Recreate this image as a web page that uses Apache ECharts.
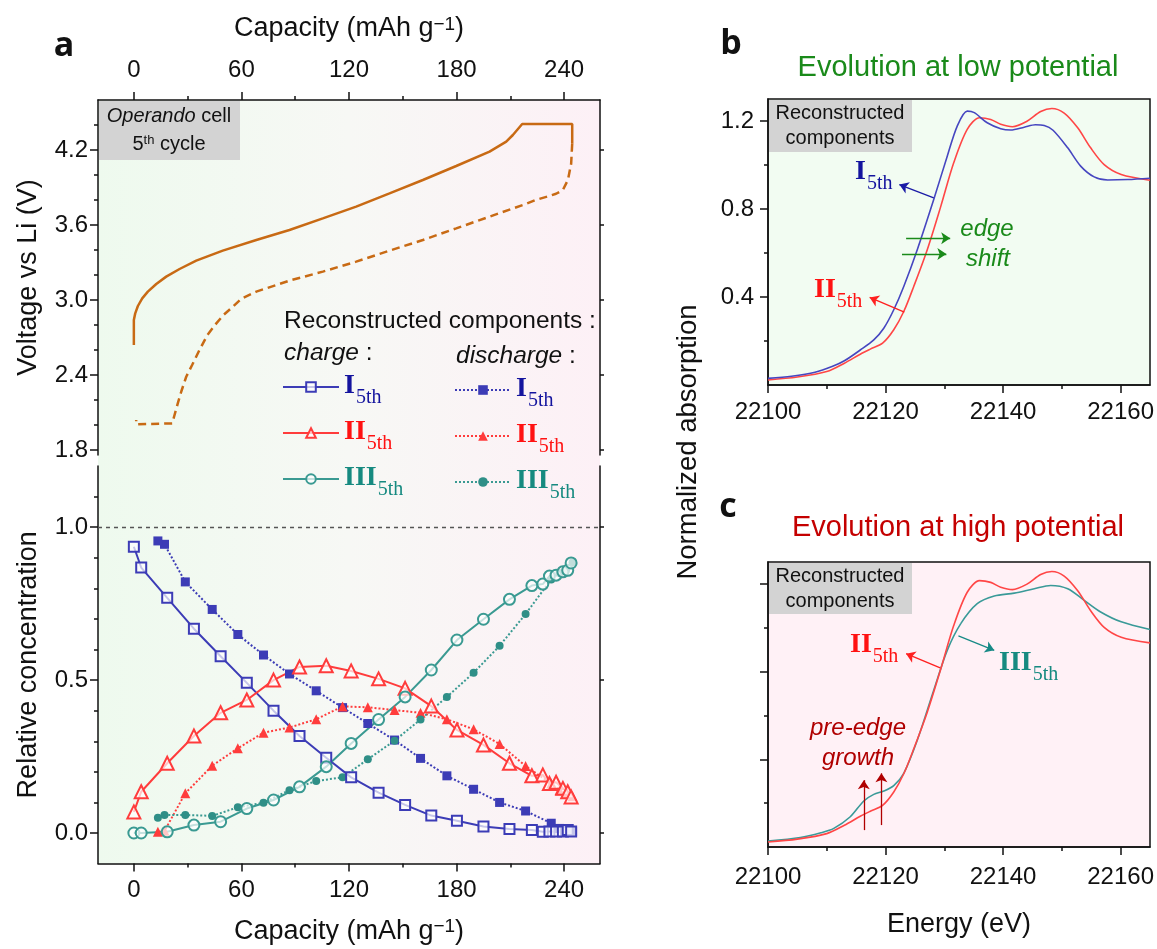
<!DOCTYPE html>
<html>
<head>
<meta charset="utf-8">
<script src="https://cdn.jsdelivr.net/npm/echarts@6/dist/echarts.min.js"></script>
<style>
html, body { margin: 0; padding: 0; background: #ffffff; }
#chart { width: 1157px; height: 949px; }
</style>
</head>
<body>
<div id="chart"></div>
<script>
// ---------- Panel a: galvanostatic profile (capacity mAh/g, voltage V) ----------
const voltageCharge = [
  [0, 2.64], [0, 2.84], [0.76, 2.893], [2.25, 2.952], [4.67, 3.013], [7.8, 3.067],
  [12.5, 3.128], [18.05, 3.187], [25.5, 3.248], [34.8, 3.315], [49.6, 3.395],
  [68.3, 3.48], [86.8, 3.56], [105.4, 3.653], [124, 3.747], [142.6, 3.853],
  [161.2, 3.96], [179.8, 4.072], [198.4, 4.187], [207.7, 4.267], [211.4, 4.32],
  [216.6, 4.408], [244.5, 4.408], [244.5, 4.25]
];
const voltageDischarge = [
  [244.5, 4.25], [243.9, 4.09], [242.1, 3.96], [239.3, 3.88], [235.5, 3.85],
  [231.8, 3.832], [224, 3.80], [217, 3.76], [198.4, 3.667], [179.8, 3.573],
  [161.2, 3.48], [142.6, 3.395], [124, 3.307], [105.4, 3.227], [86.8, 3.155],
  [68.3, 3.067], [60, 3.01], [55.2, 2.946], [50, 2.88], [46, 2.813], [41, 2.72],
  [36.6, 2.6], [32.5, 2.48], [29.2, 2.386], [26.5, 2.27], [24.5, 2.173],
  [22.5, 2.07], [21.4, 2.013], [1.3, 2.005], [1.3, 2.04]
];

// ---------- Panel a: relative concentration of the reconstructed components ----------
const chargeCap = [0, 4.1, 18.6, 33.5, 48.4, 63, 77.9, 92.4, 107.3, 121.2, 136.5, 151.3,
  165.9, 180.2, 195, 209.5, 222, 228.1, 231.8, 235.5, 239.3, 242, 243.9];
const chargeI = [0.936, 0.868, 0.769, 0.668, 0.578, 0.491, 0.40, 0.317, 0.246, 0.182, 0.132,
  0.092, 0.057, 0.040, 0.021, 0.013, 0.010, 0.004, 0.005, 0.005, 0.005, 0.010, 0.005];
const chargeII = [0.069, 0.135, 0.228, 0.317, 0.393, 0.435, 0.50, 0.543, 0.547, 0.53, 0.504,
  0.473, 0.415, 0.337, 0.288, 0.228, 0.187, 0.19, 0.162, 0.166, 0.146, 0.135, 0.118];
const chargeIII = [0, 0, 0.004, 0.026, 0.037, 0.08, 0.108, 0.151, 0.217, 0.293, 0.371,
  0.445, 0.533, 0.631, 0.699, 0.764, 0.809, 0.814, 0.84, 0.843, 0.854, 0.859, 0.883];

const dischargeCap = [244.7, 241, 237.4, 232.8, 218.5, 204, 189.5, 174.6, 159.9, 145.4,
  130.5, 116.4, 101.7, 86.8, 72.3, 58, 43.7, 28.7, 17.1, 13.4];
const dischargeI = [0.005, 0.01, 0.015, 0.032, 0.072, 0.10, 0.143, 0.187, 0.244, 0.304,
  0.358, 0.41, 0.465, 0.52, 0.582, 0.649, 0.731, 0.821, 0.944, 0.955];
const dischargeII = [0.12, 0.13, 0.14, 0.162, 0.219, 0.291, 0.339, 0.372, 0.393, 0.402,
  0.411, 0.414, 0.372, 0.345, 0.328, 0.277, 0.22, 0.13, 0.007, 0.004];
const dischargeIII = [0.885, 0.859, 0.85, 0.829, 0.716, 0.612, 0.524, 0.445, 0.371, 0.302,
  0.241, 0.182, 0.17, 0.14, 0.099, 0.084, 0.056, 0.059, 0.059, 0.05];

// ---------- Panels b, c: XANES spectra (energy eV, normalized absorption) ----------
const spectrumI = [
  [22100, 0.030], [22104, 0.040], [22108, 0.058], [22111, 0.085], [22113, 0.11],
  [22115.7, 0.159], [22118, 0.205], [22119.7, 0.258], [22121.4, 0.342], [22123.1, 0.448],
  [22125.4, 0.615], [22128.2, 0.843], [22130.5, 1.040], [22132.2, 1.177], [22133.9, 1.245],
  [22135.1, 1.238], [22137.3, 1.192], [22139.6, 1.165], [22141.3, 1.159], [22143.6, 1.172],
  [22145.5, 1.183], [22147, 1.180], [22148.5, 1.158], [22151, 1.078], [22153.2, 0.995],
  [22155.5, 0.946], [22157.8, 0.932], [22161.2, 0.934], [22165, 0.940]
];
const spectrumII = [
  [22100, 0.023], [22105, 0.036], [22110, 0.061], [22113, 0.099], [22115.7, 0.14],
  [22117.4, 0.163], [22119.5, 0.19], [22121.4, 0.251], [22123.1, 0.334], [22124.8, 0.448],
  [22127.1, 0.615], [22129.4, 0.812], [22131.6, 1.010], [22133.9, 1.162], [22136, 1.215],
  [22137.9, 1.207], [22139.6, 1.185], [22141.6, 1.174], [22144, 1.198], [22146.4, 1.243],
  [22148.3, 1.257], [22150.4, 1.236], [22152.7, 1.169], [22154.9, 1.078], [22157.2, 1.002],
  [22160.1, 0.957], [22165, 0.931]
];
const spectrumIII = [
  [22100, 0.027], [22105.5, 0.043], [22109, 0.065], [22111.2, 0.085], [22114, 0.138],
  [22116.3, 0.21], [22118, 0.24], [22119.7, 0.255], [22121.4, 0.28], [22123.1, 0.336],
  [22125.4, 0.487], [22128.2, 0.715], [22130.5, 0.897], [22132.8, 1.019], [22135.6, 1.110],
  [22138.5, 1.145], [22141.9, 1.158], [22145.3, 1.178], [22148.1, 1.193], [22151, 1.178],
  [22153.8, 1.125], [22156.6, 1.072], [22160.1, 1.027], [22165, 0.992]
];

// ---------- tick values ----------
const capMajor = [0, 60, 120, 180, 240];
const capMinor = [30, 90, 150, 210];
const voltMajor = [1.8, 2.4, 3.0, 3.6, 4.2];
const voltMinor = [2.0, 2.2, 2.6, 2.8, 3.2, 3.4, 3.8, 4.0, 4.4];
const concMajor = [0, 0.5, 1.0];
const concMinor = [0.1, 0.2, 0.3, 0.4, 0.6, 0.7, 0.8, 0.9, 1.1];
const energyMajor = [22100, 22120, 22140, 22160];
const energyMinor = [22110, 22130, 22150];
const absMajor = [0.4, 0.8, 1.2];
const absMinor = [0.2, 0.6, 1.0];

// ---------- styling ----------
const FONT = 'Liberation Sans';
const SERIF = 'Liberation Serif';
const BLACK = '#111111';
const BLUE = '#3c3cb6';
const RED = '#ff3c3c';
const TEAL = '#3a9a92';
const ORANGE = '#c86a14';
const TXT_I = '#14149e';
const TXT_II = '#ff1212';
const TXT_III = '#168a80';

const pair = (xs, ys) => xs.map((x, i) => [x, ys[i]]);

function majorAxis(gridIndex, position, min, max, ticks, labelOpts, extra) {
  return Object.assign({
    type: 'value', gridIndex, position, min, max,
    axisLine: { show: true, onZero: false, lineStyle: { color: BLACK, width: 1.5 } },
    axisTick: { show: true, inside: false, length: 8, customValues: ticks, lineStyle: { color: BLACK, width: 1.5 } },
    axisLabel: Object.assign({ show: true, customValues: ticks, margin: 12, fontSize: 24, fontFamily: FONT, color: BLACK,
      formatter: v => String(v) }, labelOpts || {}),
    splitLine: { show: false }
  }, extra || {});
}
function minorAxis(gridIndex, position, min, max, ticks, len) {
  return {
    type: 'value', gridIndex, position, min, max,
    axisLine: { show: false, onZero: false },
    axisTick: { show: true, inside: false, length: len || 4, customValues: ticks, lineStyle: { color: BLACK, width: 1.5 } },
    axisLabel: { show: false },
    splitLine: { show: false }
  };
}
const fix1 = v => Number(v).toFixed(1);

const supRich = { sup: { fontSize: 19, fontFamily: FONT, verticalAlign: 'top', lineHeight: 16, color: BLACK } };
const capName = 'Capacity (mAh g{sup|\u22121})';
const axisNameStyle = { fontSize: 27, fontFamily: FONT, color: BLACK, rich: supRich };

// roman numeral labels with subscript "5th"; legend text uses "color", graphic text uses "fill"
function romanRich(key, color, prop) {
  const r = {};
  r[key + 'b'] = { fontFamily: SERIF, fontWeight: 'bold', fontSize: 28, lineHeight: 30, verticalAlign: 'top' };
  r[key + 's'] = { fontFamily: SERIF, fontSize: 20, lineHeight: 20, padding: [16, 0, 0, 1], verticalAlign: 'top' };
  r[key + 'b'][prop] = color;
  r[key + 's'][prop] = color;
  return r;
}
function makeRich(prop) {
  return Object.assign({}, romanRich('a', TXT_I, prop), romanRich('b', TXT_II, prop), romanRich('c', TXT_III, prop));
}
const RICH = makeRich('color');
const RICH_FILL = makeRich('fill');
const LABEL_I = '{ab|I}{as|5th}';
const LABEL_II = '{bb|II}{bs|5th}';
const LABEL_III = '{cb|III}{cs|5th}';
const LEGEND_TEXT = {
  'I charge': LABEL_I, 'II charge': LABEL_II, 'III charge': LABEL_III,
  'I discharge': LABEL_I, 'II discharge': LABEL_II, 'III discharge': LABEL_III
};

const openItem = c => ({ color: 'rgba(255,255,255,0.7)', borderColor: c, borderWidth: 2 });

function arrowLines(list) {
  return {
    silent: true, animation: false,
    symbol: ['none', 'arrow'], symbolSize: 9,
    label: { show: false },
    emphasis: { disabled: true },
    data: list.map(a => [
      { coord: a.from, lineStyle: { color: a.color, width: 1.3, type: 'solid' }, itemStyle: { color: a.color } },
      { coord: a.to, lineStyle: { color: a.color, width: 1.3, type: 'solid' }, itemStyle: { color: a.color } }
    ])
  };
}

function txt(x, y, text, style, extra) {
  return Object.assign({
    type: 'text', x, y, silent: true,
    style: Object.assign({ text, fill: BLACK, fontFamily: FONT, fontSize: 24, align: 'left', verticalAlign: 'middle' }, style || {})
  }, extra || {});
}
const italicRich = size => ({ it: { fontStyle: 'italic', fontSize: size, fontFamily: FONT, fill: BLACK } });

const option = {
  animation: false,
  backgroundColor: '#ffffff',
  grid: [
    { left: 98, top: 100, width: 502, height: 355 },
    { left: 98, top: 466, width: 502, height: 397.6 },
    { left: 768, top: 99, width: 382, height: 286, show: true, backgroundColor: '#f2fcf2', borderColor: BLACK, borderWidth: 1.5 },
    { left: 768, top: 562, width: 382, height: 285, show: true, backgroundColor: '#fff1f6', borderColor: BLACK, borderWidth: 1.5 }
  ],
  xAxis: [
    majorAxis(0, 'top', -20, 260, capMajor, { margin: 18 },
      { name: capName, nameLocation: 'middle', nameGap: 58, nameTextStyle: axisNameStyle }),
    minorAxis(0, 'top', -20, 260, capMinor),
    majorAxis(1, 'bottom', -20, 260, capMajor, { margin: 15 },
      { name: capName, nameLocation: 'middle', nameGap: 54, nameTextStyle: axisNameStyle }),
    minorAxis(1, 'bottom', -20, 260, capMinor),
    majorAxis(2, 'bottom', 22100, 22165, energyMajor, { margin: 15 }),
    minorAxis(2, 'bottom', 22100, 22165, energyMinor),
    majorAxis(3, 'bottom', 22100, 22165, energyMajor, { margin: 18 },
      { name: 'Energy (eV)', nameLocation: 'middle', nameGap: 64, nameTextStyle: axisNameStyle }),
    minorAxis(3, 'bottom', 22100, 22165, energyMinor)
  ],
  yAxis: [
    majorAxis(0, 'left', 1.76, 4.6, voltMajor, { margin: 10, formatter: fix1 },
      { name: 'Voltage vs Li (V)', nameLocation: 'middle', nameGap: 56, nameTextStyle: axisNameStyle }),
    minorAxis(0, 'left', 1.76, 4.6, voltMinor),
    majorAxis(0, 'right', 1.76, 4.6, voltMajor, { show: false }, { axisTick: { show: true, length: 4, customValues: voltMajor, lineStyle: { color: BLACK, width: 1.5 } } }),
    majorAxis(1, 'left', -0.1, 1.2, concMajor, { margin: 10, formatter: fix1 },
      { name: 'Relative concentration', nameLocation: 'middle', nameGap: 56, nameTextStyle: axisNameStyle }),
    minorAxis(1, 'left', -0.1, 1.2, concMinor),
    majorAxis(1, 'right', -0.1, 1.2, concMajor, { show: false }, { axisTick: { show: true, length: 4, customValues: concMajor, lineStyle: { color: BLACK, width: 1.5 } } }),
    majorAxis(2, 'left', 0, 1.3, absMajor, { margin: 14, formatter: fix1 }),
    minorAxis(2, 'left', 0, 1.3, absMinor),
    majorAxis(3, 'left', 0, 1.3, absMajor, { show: false }),
    minorAxis(3, 'left', 0, 1.3, absMinor)
  ],
  legend: [
    {
      orient: 'vertical', left: 282, top: 372, padding: 0, itemWidth: 56, itemHeight: 12, itemGap: 10,
      selectedMode: false, data: ['I charge', 'II charge', 'III charge'],
      formatter: n => LEGEND_TEXT[n], textStyle: { rich: RICH }
    },
    {
      orient: 'vertical', left: 454, top: 375, padding: 0, itemWidth: 56, itemHeight: 12, itemGap: 10,
      selectedMode: false, data: ['I discharge', 'II discharge', 'III discharge'],
      formatter: n => LEGEND_TEXT[n], textStyle: { rich: RICH }
    }
  ],
  series: [
    // voltage profile
    { type: 'line', name: 'charge voltage', xAxisIndex: 0, yAxisIndex: 0, data: voltageCharge, showSymbol: false,
      lineStyle: { color: ORANGE, width: 2.5 }, silent: true },
    { type: 'line', name: 'discharge voltage', xAxisIndex: 0, yAxisIndex: 0, data: voltageDischarge, showSymbol: false,
      lineStyle: { color: ORANGE, width: 2.5, type: [8, 5] }, silent: true },

    // discharge components (dotted, filled markers)
    { type: 'line', name: 'I discharge', xAxisIndex: 2, yAxisIndex: 3, data: pair(dischargeCap, dischargeI),
      symbol: 'rect', symbolSize: 9, itemStyle: { color: BLUE }, lineStyle: { color: BLUE, width: 2, type: 'dotted' }, silent: true },
    { type: 'line', name: 'II discharge', xAxisIndex: 2, yAxisIndex: 3, data: pair(dischargeCap, dischargeII),
      symbol: 'triangle', symbolSize: 10, itemStyle: { color: RED }, lineStyle: { color: RED, width: 2, type: 'dotted' }, silent: true },
    { type: 'line', name: 'III discharge', xAxisIndex: 2, yAxisIndex: 3, data: pair(dischargeCap, dischargeIII),
      symbol: 'circle', symbolSize: 8, itemStyle: { color: '#2f8f87' }, lineStyle: { color: TEAL, width: 2, type: 'dotted' }, silent: true },

    // charge components (solid, open markers)
    { type: 'line', name: 'I charge', xAxisIndex: 2, yAxisIndex: 3, data: pair(chargeCap, chargeI),
      symbol: 'rect', symbolSize: 10, itemStyle: openItem(BLUE), lineStyle: { color: BLUE, width: 2 }, silent: true,
      markLine: { silent: true, symbol: ['none', 'none'], label: { show: false },
        lineStyle: { color: '#555555', type: [4, 4], width: 1.3 }, data: [{ yAxis: 1.0 }] } },
    { type: 'line', name: 'II charge', xAxisIndex: 2, yAxisIndex: 3, data: pair(chargeCap, chargeII),
      symbol: 'triangle', symbolSize: 13, itemStyle: openItem(RED), lineStyle: { color: RED, width: 2 }, silent: true },
    { type: 'line', name: 'III charge', xAxisIndex: 2, yAxisIndex: 3, data: pair(chargeCap, chargeIII),
      symbol: 'circle', symbolSize: 11, itemStyle: openItem(TEAL), lineStyle: { color: TEAL, width: 2 }, silent: true },

    // panel b: low potential spectra
    { type: 'line', name: 'spectrum II low', xAxisIndex: 4, yAxisIndex: 6, data: spectrumII, showSymbol: false, smooth: 0.3,
      lineStyle: { color: '#ff4646', width: 1.6 }, silent: true,
      markLine: arrowLines([{ from: [22123.2, 0.331], to: [22117.3, 0.398], color: '#ff2020' }]) },
    { type: 'line', name: 'spectrum I low', xAxisIndex: 4, yAxisIndex: 6, data: spectrumI, showSymbol: false, smooth: 0.3,
      lineStyle: { color: '#4646c0', width: 1.6 }, silent: true,
      markLine: arrowLines([
        { from: [22128.2, 0.851], to: [22122.35, 0.911], color: '#1a1aa6' },
        { from: [22123.5, 0.667], to: [22131.0, 0.667], color: '#1a8a1a' },
        { from: [22122.8, 0.595], to: [22130.35, 0.595], color: '#1a8a1a' }
      ]) },

    // panel c: high potential spectra
    { type: 'line', name: 'spectrum III high', xAxisIndex: 6, yAxisIndex: 8, data: spectrumIII, showSymbol: false, smooth: 0.3,
      lineStyle: { color: '#3a9a98', width: 1.6 }, silent: true,
      markLine: arrowLines([
        { from: [22132.4, 0.963], to: [22138.5, 0.897], color: '#178a86' },
        { from: [22116.3, 0.077], to: [22116.3, 0.305], color: '#b00000' },
        { from: [22119.3, 0.10], to: [22119.3, 0.336], color: '#b00000' }
      ]) },
    { type: 'line', name: 'spectrum II high', xAxisIndex: 6, yAxisIndex: 8, data: spectrumII, showSymbol: false, smooth: 0.3,
      lineStyle: { color: '#ff4646', width: 1.6 }, silent: true,
      markLine: arrowLines([{ from: [22129.3, 0.817], to: [22123.5, 0.882], color: '#ff2020' }]) }
  ],
  graphic: [
    // shaded background of panel a: green (low capacity) to pink (high capacity)
    { type: 'rect', silent: true, z: -10, shape: { x: 98, y: 100, width: 502, height: 763.6 },
      style: { fill: new echarts.graphic.LinearGradient(0, 0, 1, 0, [
        { offset: 0, color: '#eefaee' }, { offset: 0.5, color: '#f7f8f5' }, { offset: 1, color: '#fdf0f6' }]) } },

    // panel letters and titles
    txt(64, 46, 'a', { align: 'center', fontSize: 34, fontWeight: 'bold', fontFamily: 'Open Sans' }),
    txt(731, 44, 'b', { align: 'center', fontSize: 34, fontWeight: 'bold', fontFamily: 'Open Sans' }),
    txt(728, 507, 'c', { align: 'center', fontSize: 34, fontWeight: 'bold', fontFamily: 'Open Sans' }),
    txt(958, 68, 'Evolution at low potential', { align: 'center', fontSize: 29, fill: '#1a8a1a' }),
    txt(958, 528, 'Evolution at high potential', { align: 'center', fontSize: 29, fill: '#c40000' }),
    txt(688, 442, 'Normalized absorption', { align: 'center', fontSize: 27.5 }, { rotation: Math.PI / 2 }),

    // panel a annotations
    { type: 'rect', silent: true, shape: { x: 99, y: 101, width: 141, height: 59 }, style: { fill: '#d3d3d3' } },
    txt(169, 116, '{it|Operando} cell', { align: 'center', fontSize: 20, rich: italicRich(20) }),
    txt(169, 144, '5{sup|th} cycle', { align: 'center', fontSize: 20,
      rich: { sup: { fontSize: 13, fontFamily: FONT, verticalAlign: 'top', lineHeight: 12, fill: BLACK } } }),
    txt(284, 321, 'Reconstructed components :', { fontSize: 24.5 }),
    txt(284, 353, '{it|charge} :', { fontSize: 24.5, rich: italicRich(24.5) }),
    txt(456, 356, '{it|discharge} :', { fontSize: 24.5, rich: italicRich(24.5) }),

    // panel b annotations
    { type: 'rect', silent: true, shape: { x: 769, y: 100, width: 143, height: 52 }, style: { fill: '#d3d3d3' } },
    txt(840, 113, 'Reconstructed', { align: 'center', fontSize: 20 }),
    txt(840, 138, 'components', { align: 'center', fontSize: 20 }),
    txt(855, 158, LABEL_I, { verticalAlign: 'top', rich: RICH_FILL }),
    txt(814, 276, LABEL_II, { verticalAlign: 'top', rich: RICH_FILL }),
    txt(987, 229, 'edge', { align: 'center', fontSize: 24, fontStyle: 'italic', fill: '#1a8a1a' }),
    txt(988, 259, 'shift', { align: 'center', fontSize: 24, fontStyle: 'italic', fill: '#1a8a1a' }),

    // panel c annotations
    { type: 'rect', silent: true, shape: { x: 769, y: 563, width: 143, height: 51 }, style: { fill: '#d3d3d3' } },
    txt(840, 576, 'Reconstructed', { align: 'center', fontSize: 20 }),
    txt(840, 601, 'components', { align: 'center', fontSize: 20 }),
    txt(850, 631, LABEL_II, { verticalAlign: 'top', rich: RICH_FILL }),
    txt(999, 649, LABEL_III, { verticalAlign: 'top', rich: RICH_FILL }),
    txt(858, 728, 'pre-edge', { align: 'center', fontSize: 24, fontStyle: 'italic', fill: '#b00000' }),
    txt(858, 758, 'growth', { align: 'center', fontSize: 24, fontStyle: 'italic', fill: '#b00000' })
  ]
};

const chart = echarts.init(document.getElementById('chart'), null, { renderer: 'canvas' });
chart.setOption(option);
</script>
</body>
</html>
